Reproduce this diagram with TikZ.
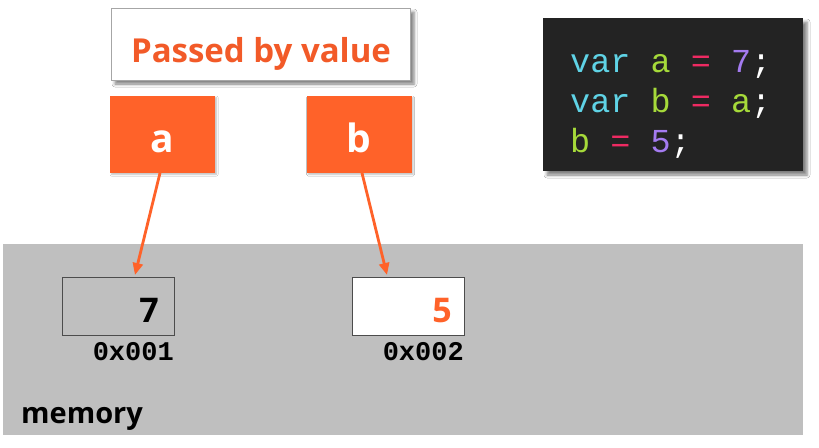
\documentclass[tikz,border=0pt]{standalone}
\usepackage{fontspec}
\setmainfont{Open Sans}
\setmonofont{Liberation Mono}
\usetikzlibrary{arrows.meta,shadows.blur}
\definecolor{accent}{HTML}{FF6229}
\definecolor{titlecol}{HTML}{F25A28}
\definecolor{memgray}{HTML}{BFBFBF}
\definecolor{codebg}{HTML}{232323}
\definecolor{kwcyan}{HTML}{5FD3E6}
\definecolor{idgreen}{HTML}{A6DA3A}
\definecolor{oppink}{HTML}{EE2A62}
\definecolor{numpurple}{HTML}{A47BF0}
\begin{document}
\begin{tikzpicture}[x=1pt,y=-1pt,
  varbox/.style={fill=accent, minimum width=105pt, minimum height=77pt, inner sep=0pt,
    blur shadow={shadow xshift=1.5pt, shadow yshift=-1.5pt, shadow blur radius=1.5pt, shadow opacity=25}},
  varname/.style={anchor=base, inner sep=0pt, text=white, font=\fontsize{39}{40}\selectfont\bfseries},
  cell/.style={draw=black!70, line width=0.8pt, minimum width=112pt, minimum height=58pt, inner sep=0pt},
  cellval/.style={anchor=base east, inner sep=0pt, font=\fontsize{34}{36}\selectfont\bfseries},
  addr/.style={anchor=base east, inner sep=0pt, font=\fontsize{27}{28}\selectfont\ttfamily\bfseries},
  codeline/.style={anchor=base west, inner sep=0pt, text=white, font=\fontsize{33.5}{36}\selectfont\ttfamily},
  ref/.style={draw=accent, line width=2.8pt, -{Triangle[length=12pt,width=10pt]}},
  boxshadow/.style={blur shadow={shadow xshift=4pt, shadow yshift=-4pt, shadow blur radius=3pt, shadow opacity=50}}
]
\useasboundingbox (0,0) rectangle (819,447);
\fill[white] (0,0) rectangle (819,447);

% memory area
\fill[memgray] (3,244) rectangle (803,435);
\node[anchor=base west, inner sep=0pt, font=\fontsize{29}{30}\selectfont\bfseries] (memlabel) at (21,423) {memory};

% title
\node[draw=black!35, fill=white, line width=0.6pt, minimum width=299pt, minimum height=72pt,
      boxshadow] (title) at (260.5,44) {};
\node[anchor=base, inner sep=0pt, text=titlecol, font=\fontsize{33}{34}\selectfont\bfseries] (titletext) at (261,62) {Passed by value};

% variables
\node[varbox] (a) at (162.5,134.5) {};
\node[varname] (alabel) at (162.5,152) {a};
\node[varbox] (b) at (359,134.5) {};
\node[varname] (blabel) at (359,152) {b};

% memory cells
\node[cell] (cellA) at (118,306) {};
\node[cell, fill=white] (cellB) at (408,306) {};
\node[cellval] (valA) at (159,322) {7};
\node[cellval, text=accent] (valB) at (452,322) {5};
\node[addr] (addrA) at (174,360) {0x001};
\node[addr] (addrB) at (464,360) {0x002};

% references
\coordinate (fromA) at (160,173);
\coordinate (tipA) at (135,275);
\coordinate (fromB) at (362,173);
\coordinate (tipB) at (387,275);
\draw[ref] (fromA) -- (tipA);
\draw[ref] (fromB) -- (tipB);

% code panel
\node[fill=codebg, minimum width=260pt, minimum height=153pt, inner sep=0pt, boxshadow] (code) at (673,94.5) {};
\node[codeline] (line1) at (570,72) {\textcolor{kwcyan}{var} \textcolor{idgreen}{a} \textcolor{oppink}{=} \textcolor{numpurple}{7};};
\node[codeline] (line2) at (570,112) {\textcolor{kwcyan}{var} \textcolor{idgreen}{b} \textcolor{oppink}{=} \textcolor{idgreen}{a};};
\node[codeline] (line3) at (570,152) {\textcolor{idgreen}{b} \textcolor{oppink}{=} \textcolor{numpurple}{5};};
\end{tikzpicture}
\end{document}
